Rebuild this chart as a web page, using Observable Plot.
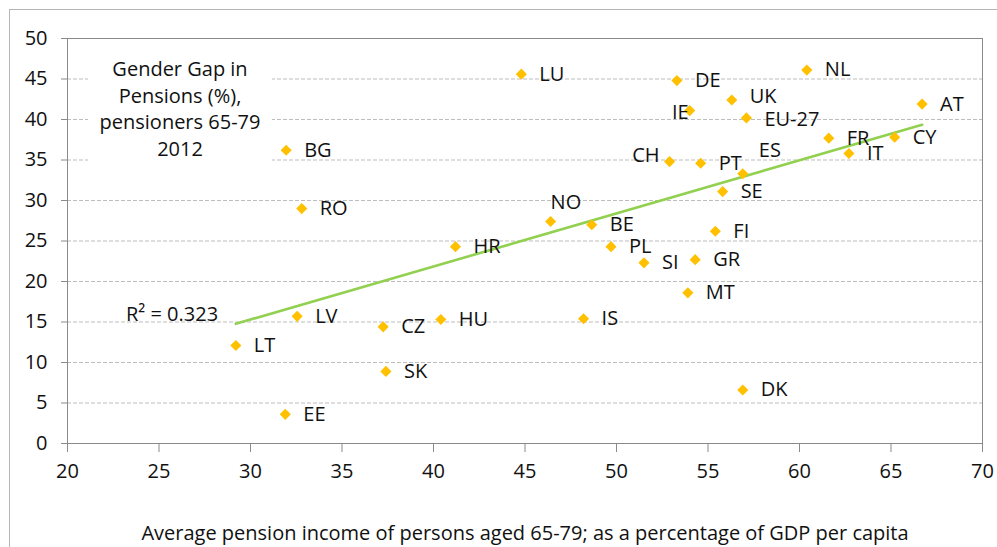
<!DOCTYPE html>
<html>
<head>
<meta charset="utf-8">
<script src="https://cdn.jsdelivr.net/npm/d3@7"></script>
<script src="https://cdn.jsdelivr.net/npm/@observablehq/plot@0.6"></script>
<style>
  html, body { margin: 0; padding: 0; background: #fff; overflow: hidden; }
  #wrap { position: relative; width: 997px; height: 547px; font-family: "Open Sans", sans-serif; color: #111; }
  #outer { position: absolute; left: 9px; top: 9px; width: 2000px; height: 2000px; border-top: 1px solid #b5b5b5; border-left: 1px solid #b5b5b5; pointer-events: none; }
  #title { position: absolute; left: 88px; top: 54px; width: 184px; background: #fff; text-align: center; font-size: 20px; line-height: 26.5px; padding: 2px 0 4px 0; }
  #r2 { position: absolute; left: 126px; top: 302px; font-size: 20px; line-height: 24px; }
  svg { position: absolute; left: 0; top: 0; }
</style>
</head>
<body>
<div id="wrap">
  <div id="outer"></div>
</div>
<script>
// ---- data ----
const countries = ["LU","DE","NL","UK","IE","EU-27","AT","FR","CY","IT","CH","PT","ES","SE","NO","BE","FI","PL","SI","GR","HR","BG","RO","MT","IS","DK","LT","LV","CZ","HU","SK","EE"];
const pensionIncome = [44.8,53.3,60.4,56.3,54.0,57.1,66.7,61.6,65.2,62.7,52.9,54.6,56.9,55.8,46.4,48.65,55.4,49.7,51.5,54.3,41.2,31.95,32.8,53.9,48.2,56.9,29.2,32.55,37.25,40.4,37.4,31.9];
const genderGap = [45.6,44.8,46.1,42.4,41.1,40.2,41.9,37.7,37.8,35.8,34.8,34.6,33.3,31.1,27.4,27.0,26.2,24.3,22.3,22.7,24.3,36.2,29.0,18.6,15.4,6.6,12.1,15.7,14.4,15.3,8.9,3.6];
const xTicks = [20,25,30,35,40,45,50,55,60,65,70];
const yTicks = [0,5,10,15,20,25,30,35,40,45,50];
const titleLines = ["Gender Gap in","Pensions (%),","pensioners 65-79","2012"];
const r2Label = "R² = 0.323";
const xTitle = "Average pension income of persons aged 65-79; as a percentage of GDP per capita";

const data = countries.map((c, i) => ({country: c, x: pensionIncome[i], y: genderGap[i]}));

// label placement tweaks (style only)
const special = {
  "IE": {textAnchor: "end", dx: -1, dy: 2},
  "CH": {textAnchor: "end", dx: -10, dy: -6},
  "ES": {textAnchor: "start", dx: 16, dy: -23},
  "NO": {textAnchor: "start", dx: 0, dy: -19},
  "UK": {textAnchor: "start", dx: 18, dy: -3},
  "EU-27": {textAnchor: "start", dx: 18, dy: 2}
};

const font = {fontFamily: "Open Sans", fontSize: 20, fill: "#111"};

const marks = [
  Plot.gridY({ticks: yTicks, stroke: "#bdbdbd", strokeOpacity: 1, strokeDasharray: "4,2"}),
  Plot.axisY({ticks: yTicks, tickSize: 6, tickPadding: 14, stroke: "#8a8a8a", label: null, ...font}),
  Plot.axisX({ticks: xTicks, tickSize: 9, tickPadding: 11, stroke: "#8a8a8a", label: null, ...font}),
  Plot.frame({stroke: "#8a8a8a"}),
  Plot.linearRegressionY(data, {x: "x", y: "y", stroke: "#92D050", strokeWidth: 2.6, ci: 0}),
  Plot.dot(data, {x: "x", y: "y", symbol: "diamond2", r: 5, fill: "#FFC000", stroke: "none"}),
  Plot.text(data, {filter: d => !special[d.country], x: "x", y: "y", text: "country", textAnchor: "start", dx: 18, ...font}),
  ...Object.entries(special).map(([c, o]) =>
    Plot.text(data, {filter: d => d.country === c, x: "x", y: "y", text: "country", ...o, ...font})),
  Plot.text([xTitle], {frameAnchor: "bottom", dy: 90, lineAnchor: "middle", ...font})
];

const chart = Plot.plot({
  width: 997, height: 547,
  marginLeft: 67, marginRight: 15, marginTop: 38, marginBottom: 104,
  x: {domain: [20, 70]},
  y: {domain: [0, 50]},
  style: {fontFamily: "Open Sans", fontSize: "20px", color: "#111", background: "transparent", overflow: "visible"},
  marks
});

const wrap = document.getElementById("wrap");
wrap.insertBefore(chart, wrap.firstChild);

const title = document.createElement("div");
title.id = "title";
title.innerHTML = titleLines.join("<br>");
wrap.appendChild(title);

const r2 = document.createElement("div");
r2.id = "r2";
r2.textContent = r2Label;
wrap.appendChild(r2);
</script>
</body>
</html>
